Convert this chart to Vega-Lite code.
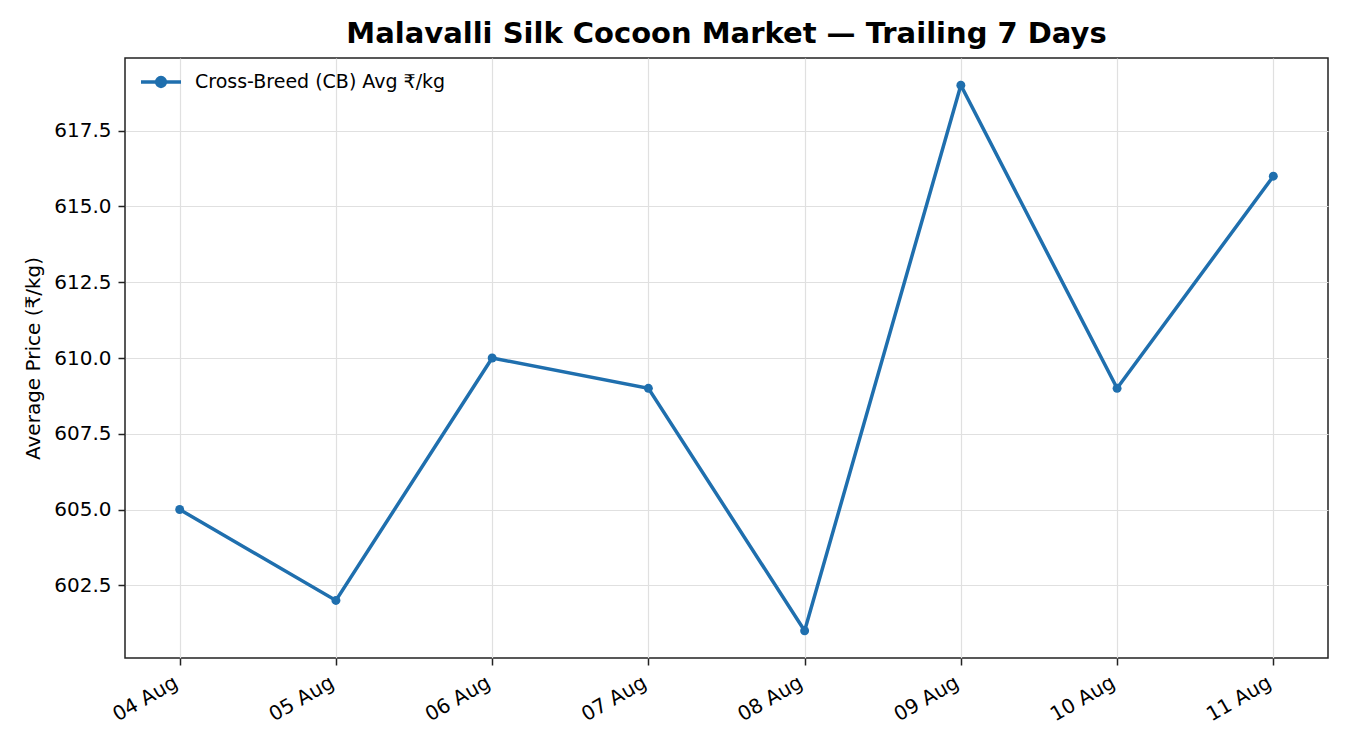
{
  "$schema": "https://vega.github.io/schema/vega-lite/v6.json",
  "autosize": {"type": "none"},
  "padding": {"left": 125, "top": 58, "right": 22, "bottom": 92},
  "width": 1203,
  "height": 600,
  "background": "white",
  "data": {
    "values": [
      {"date": "2024-08-04T00:00:00", "price": 605, "series": "Cross-Breed (CB) Avg ₹/kg"},
      {"date": "2024-08-05T00:00:00", "price": 602, "series": "Cross-Breed (CB) Avg ₹/kg"},
      {"date": "2024-08-06T00:00:00", "price": 610, "series": "Cross-Breed (CB) Avg ₹/kg"},
      {"date": "2024-08-07T00:00:00", "price": 609, "series": "Cross-Breed (CB) Avg ₹/kg"},
      {"date": "2024-08-08T00:00:00", "price": 601, "series": "Cross-Breed (CB) Avg ₹/kg"},
      {"date": "2024-08-09T00:00:00", "price": 619, "series": "Cross-Breed (CB) Avg ₹/kg"},
      {"date": "2024-08-10T00:00:00", "price": 609, "series": "Cross-Breed (CB) Avg ₹/kg"},
      {"date": "2024-08-11T00:00:00", "price": 616, "series": "Cross-Breed (CB) Avg ₹/kg"}
    ]
  },
  "title": {
    "text": "Malavalli Silk Cocoon Market — Trailing 7 Days",
    "font": "DejaVu Sans",
    "fontSize": 29,
    "fontWeight": "bold",
    "color": "black",
    "anchor": "middle",
    "offset": 9
  },
  "config": {
    "view": {"stroke": "#222222", "strokeWidth": 1.5},
    "axis": {
      "labelFont": "DejaVu Sans",
      "titleFont": "DejaVu Sans",
      "labelFontSize": 20,
      "titleFontSize": 20,
      "labelColor": "black",
      "titleColor": "black",
      "titleFontWeight": "normal",
      "gridColor": "#e0e0e0",
      "gridWidth": 1.2,
      "domainColor": "#222222",
      "tickColor": "#222222",
      "tickSize": 7,
      "tickWidth": 1.5,
      "labelPadding": 7
    }
  },
  "mark": {
    "type": "line",
    "color": "#1f6fae",
    "strokeWidth": 3.5,
    "point": {"filled": true, "size": 80, "color": "#1f6fae"}
  },
  "encoding": {
    "x": {
      "field": "date",
      "type": "temporal",
      "title": null,
      "scale": {
        "domain": [
          {"year": 2024, "month": 8, "date": 3, "hours": 15, "minutes": 36},
          {"year": 2024, "month": 8, "date": 11, "hours": 8, "minutes": 24}
        ]
      },
      "axis": {
        "format": "%d %b",
        "tickCount": {"interval": "day", "step": 1},
        "labelAngle": -30,
        "labelAlign": "right",
        "labelBaseline": "top",
        "labelOffset": -9,
        "domain": false
      }
    },
    "y": {
      "field": "price",
      "type": "quantitative",
      "title": "Average Price (₹/kg)",
      "scale": {"domain": [600.1, 619.9], "zero": false, "nice": false},
      "axis": {
        "values": [602.5, 605, 607.5, 610, 612.5, 615, 617.5],
        "format": ".1f",
        "titlePadding": 10,
        "domain": false
      }
    },
    "color": {
      "field": "series",
      "type": "nominal",
      "scale": {"range": ["#1f6fae"]},
      "legend": {
        "title": null,
        "orient": "none",
        "legendX": 14,
        "legendY": 2,
        "labelFont": "DejaVu Sans",
        "labelFontSize": 19,
        "labelColor": "black",
        "labelLimit": 0,
        "symbolType": "M-1,0H1M-0.22,0A0.22,0.22,0,1,1,0.22,0A0.22,0.22,0,1,1,-0.22,0Z",
        "symbolStrokeWidth": 3.5,
        "symbolFillColor": "#1f6fae",
        "symbolStrokeColor": "#1f6fae",
        "symbolSize": 1600,
        "labelOffset": 12
      }
    }
  }
}
